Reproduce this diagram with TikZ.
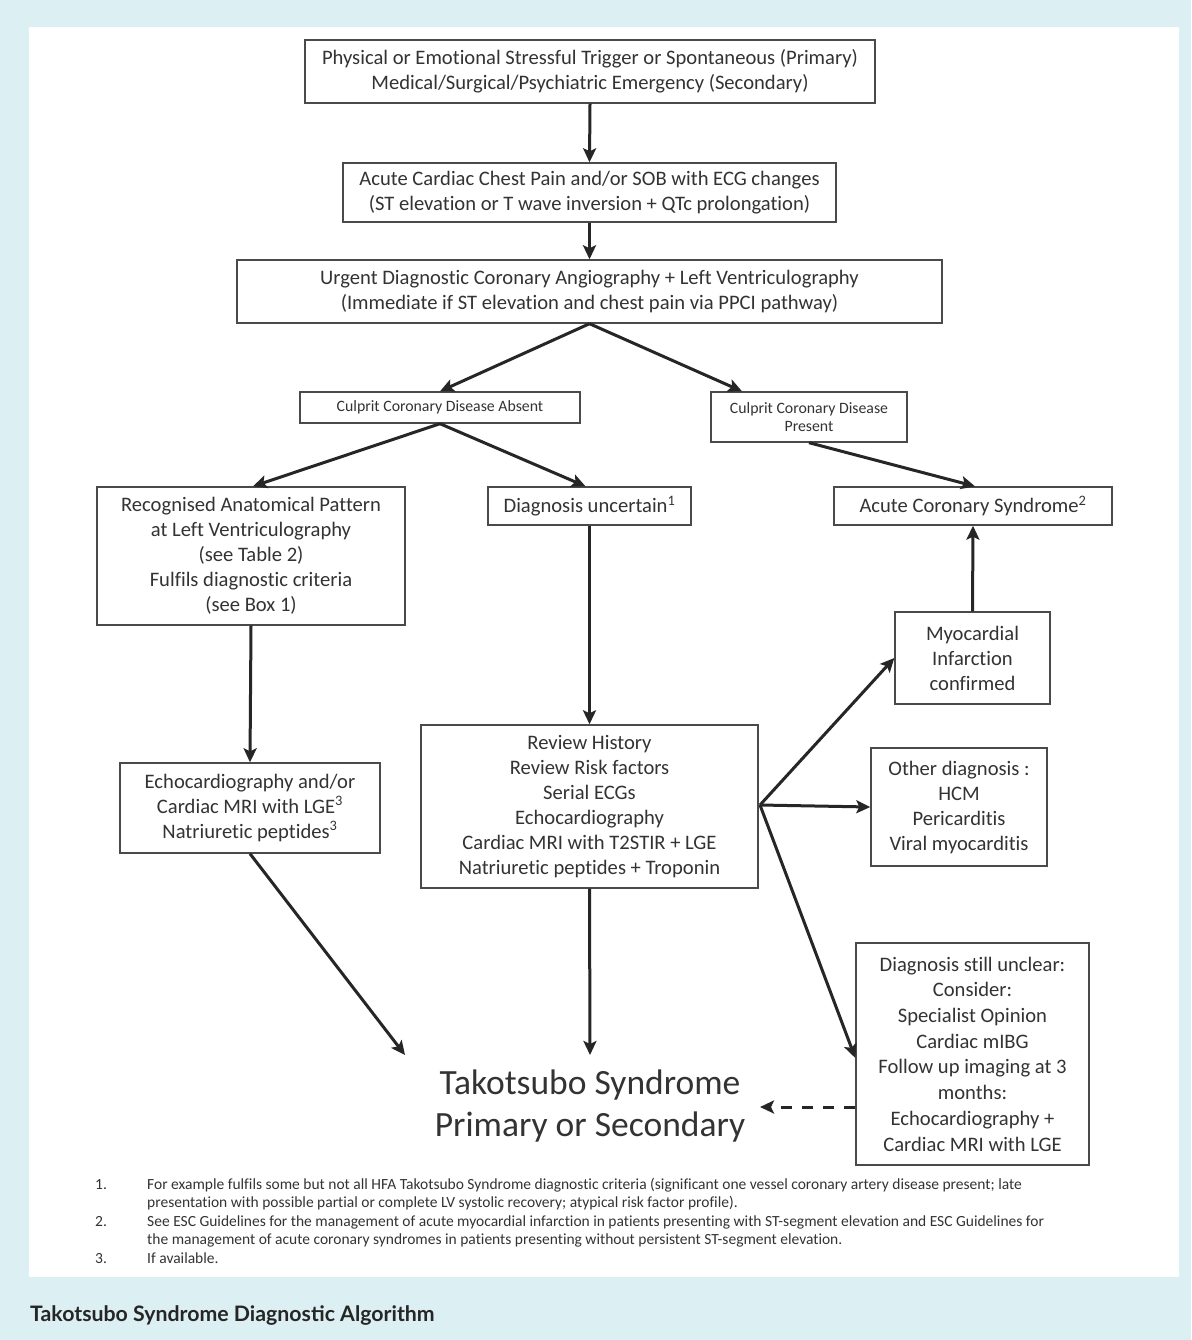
\documentclass[tikz,border=0pt]{standalone}
\usepackage{fontspec}
\setmainfont{Carlito}[Ligatures=NoCommon]
\newfontfamily\capfont{Lato}
\usetikzlibrary{arrows.meta}
\definecolor{bgc}{HTML}{DCEFF2}
\definecolor{txt}{HTML}{333333}
\definecolor{brd}{HTML}{4A4A4A}
\definecolor{arr}{HTML}{262626}
\begin{document}
\begin{tikzpicture}[x=1pt,y=-1pt,
  box/.style={draw=brd, line width=1.4pt, fill=white, text=txt, align=center, inner sep=0pt,
    font=\fontsize{20.6}{25}\selectfont},
  smallbox/.style={box, font=\fontsize{15.8}{18.5}\selectfont},
  conn/.style={draw=arr, line width=3pt, -{Stealth[length=14pt,width=13pt,inset=3pt]}},
  dconn/.style={conn, dash pattern=on 11pt off 10pt},
  fn/.style={text=txt, inner sep=0pt, anchor=base west, font=\fontsize{15.5}{18}\selectfont},
]
% background
\fill[bgc] (0,0) rectangle (1191,1340);
\fill[white] (29,27) rectangle (1179,1277);
\useasboundingbox (0,0) rectangle (1191,1340);

% boxes
\node[box, minimum width=570pt, minimum height=63pt] (trig) at (590,71.5)
  {Physical or Emotional Stressful Trigger or Spontaneous (Primary)\\Medical/Surgical/Psychiatric Emergency (Secondary)};
\node[box, minimum width=493pt, minimum height=59pt] (ecg) at (589.5,192.5)
  {Acute Cardiac Chest Pain and/or SOB with ECG changes\\(ST elevation or T wave inversion + QTc prolongation)};
\node[box, minimum width=705pt, minimum height=63pt] (angio) at (589.5,291.5)
  {Urgent Diagnostic Coronary Angiography + Left Ventriculography\\(Immediate if ST elevation and chest pain via PPCI pathway)};
\node[smallbox, minimum width=280pt, minimum height=31pt] (absent) at (440,407.5)
  {Culprit Coronary Disease Absent};
\node[smallbox, minimum width=196pt, minimum height=50pt] (present) at (809,417)
  {Culprit Coronary Disease\\Present};
\node[box, minimum width=308pt, minimum height=138pt] (recog) at (251,556)
  {Recognised Anatomical Pattern\\at Left Ventriculography\\(see Table 2)\\Fulfils diagnostic criteria\\(see Box 1)};
\node[box, minimum width=203pt, minimum height=38pt] (uncert) at (589.5,506)
  {Diagnosis uncertain\textsuperscript{1}};
\node[box, minimum width=278pt, minimum height=38pt] (acs) at (973,506)
  {Acute Coronary Syndrome\textsuperscript{2}};
\node[box, minimum width=155pt, minimum height=92pt] (mi) at (972.5,658)
  {Myocardial\\Infarction\\confirmed};
\node[box, minimum width=260pt, minimum height=90pt] (echo) at (250,808)
  {Echocardiography and/or\\Cardiac MRI with LGE\textsuperscript{3}\\Natriuretic peptides\textsuperscript{3}};
\node[box, minimum width=337pt, minimum height=163pt] (review) at (589.5,806.5)
  {Review History\\Review Risk factors\\Serial ECGs\\Echocardiography\\Cardiac MRI with T2STIR + LGE\\Natriuretic peptides + Troponin};
\node[box, minimum width=176pt, minimum height=118pt] (other) at (959,807)
  {Other diagnosis :\\HCM\\Pericarditis\\Viral myocarditis};
\node[box, minimum width=233pt, minimum height=222pt, font=\fontsize{20.6}{25.7}\selectfont] (unclear) at (972.5,1054)
  {Diagnosis still unclear:\\Consider:\\Specialist Opinion\\Cardiac mIBG\\Follow up imaging at 3\\months:\\Echocardiography +\\Cardiac MRI with LGE};
\node[text=txt, align=center, inner sep=0pt, font=\fontsize{35.5}{42}\selectfont] (tts) at (590,1106)
  {Takotsubo Syndrome\\Primary or Secondary};

% free ends
\coordinate (ttsL) at (405,1055);
\coordinate (ttsT) at (590,1055);
\coordinate (ttsR) at (760,1107);
\coordinate (revR) at (760,805);

% connectors
\draw[conn] (trig.south) -- (ecg.north);
\draw[conn] (ecg.south) -- (angio.north);
\draw[conn] (angio.south) -- (absent.north);
\draw[conn] (angio.south) -- ([xshift=-67pt]present.north);
\draw[conn] (absent.south) -- ([xshift=2pt]recog.north);
\draw[conn] (absent.south) -- ([xshift=-4pt]uncert.north);
\draw[conn] (present.south) -- ([xshift=2pt]acs.north);
\draw[conn] (recog.south) -- (echo.north);
\draw[conn] (uncert.south) -- (review.north);
\draw[conn] (mi.north) -- (acs.south);
\draw[conn] (revR) -- (mi.west);
\draw[conn] (revR) -- (other.west);
\draw[conn] (revR) -- ([yshift=-4pt]unclear.west);
\draw[conn] (echo.south) -- (ttsL);
\draw[conn] (review.south) -- (ttsT);
\draw[dconn] ([yshift=-53pt]unclear.west) -- (ttsR);

% footnotes
\node[fn] (n1) at (95,1189) {1.};
\node[fn] (f1a) at (147,1189) {For example fulfils some but not all HFA Takotsubo Syndrome diagnostic criteria (significant one vessel coronary artery disease present; late};
\node[fn] (f1b) at (147,1207.5) {presentation with possible partial or complete LV systolic recovery; atypical risk factor profile).};
\node[fn] (n2) at (95,1226) {2.};
\node[fn] (f2a) at (147,1226) {See ESC Guidelines for the management of acute myocardial infarction in patients presenting with ST-segment elevation and ESC Guidelines for};
\node[fn] (f2b) at (147,1244.5) {the management of acute coronary syndromes in patients presenting without persistent ST-segment elevation.};
\node[fn] (n3) at (95,1263) {3.};
\node[fn] (f3) at (147,1263) {If available.};

% caption
\node[anchor=west, inner sep=0pt, text=black!85, font=\capfont\bfseries\fontsize{21.3}{25}\selectfont] (cap) at (30,1315)
  {Takotsubo Syndrome Diagnostic Algorithm};
\end{tikzpicture}
\end{document}
